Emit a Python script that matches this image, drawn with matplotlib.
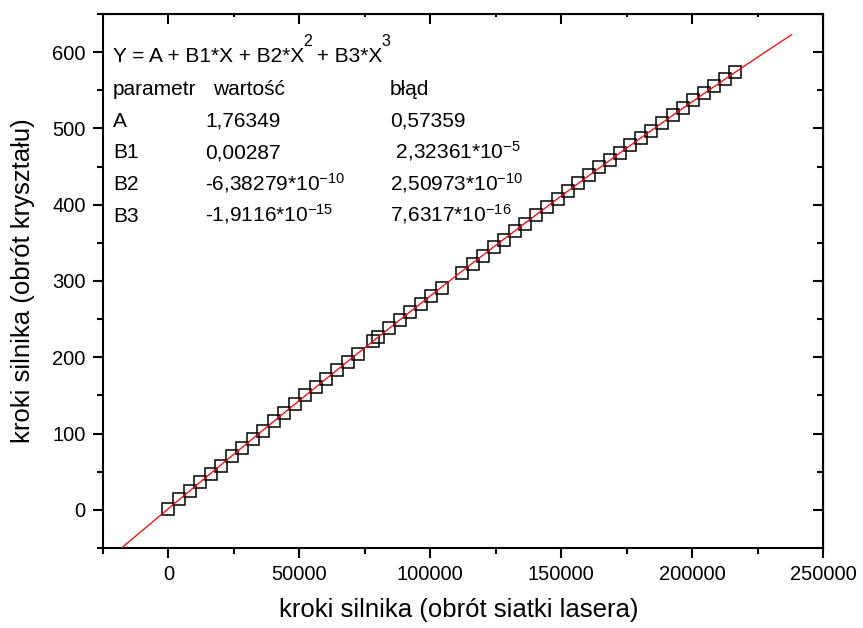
import numpy as np
import matplotlib.pyplot as plt
from matplotlib.ticker import MultipleLocator

plt.rcParams['font.family'] = ['Liberation Sans', 'DejaVu Sans']
plt.rcParams['mathtext.fontset'] = 'custom'
plt.rcParams['mathtext.rm'] = 'Liberation Sans'
plt.rcParams['mathtext.it'] = 'Liberation Sans:italic'

# motor steps: laser grating rotation vs crystal rotation
laser_steps = np.array([
    0, 4200, 8100, 12200, 16200, 20000, 24200, 28100, 32200, 36100,
    40200, 44300, 48500, 52300, 56300, 60300, 64300, 68400, 72400, 78100,
    80200, 84400, 88300, 92400, 96300, 100400, 104400, 112000, 116200, 120300,
    124400, 128300, 132400, 136300, 140500, 144500, 148600, 152600, 156500, 160600,
    164600, 168500, 172300, 176300, 180400, 184300, 188400, 192600, 196400, 200500,
    204600, 208500, 212600, 216400])
crystal_steps = np.array([
    1, 14, 25, 36, 47, 58, 70, 81, 93, 104,
    116, 127, 139, 150, 161, 172, 183, 194, 204, 221,
    227, 238, 249, 260, 270, 280, 291, 311, 322, 333,
    344, 354, 365, 375, 386, 397, 408, 418, 428, 439,
    449, 458, 468, 478, 488, 497, 507, 517, 527, 537,
    547, 556, 565, 574])

# cubic fit Y = A + B1*X + B2*X^2 + B3*X^3
param_names = ['A', 'B1', 'B2', 'B3']
param_values = [1.76349, 0.00287, -6.38279e-10, -1.9116e-15]
value_labels = ['1,76349', '0,00287',
                r'-6,38279*10$^{\mathregular{-10}}$',
                r'-1,9116*10$^{\mathregular{-15}}$']
error_labels = ['0,57359',
                r' 2,32361*10$^{\mathregular{-5}}$',
                r'2,50973*10$^{\mathregular{-10}}$',
                r'7,6317*10$^{\mathregular{-16}}$']

W, H = 863, 628
fig = plt.figure(figsize=(W / 100, H / 100), dpi=100)
ax = fig.add_axes([103 / W, 80 / H, 720 / W, 534 / H])

x_fit = np.linspace(-18000, 238000, 300)
y_fit = np.polyval(param_values[::-1], x_fit)
ax.plot(x_fit, y_fit, color='red', lw=0.9, zorder=3)
ax.plot(laser_steps, crystal_steps, 's', ms=8, mfc='none', mec='black',
        mew=1.1, zorder=2)

ax.set_xlim(-25000, 250000)
ax.set_ylim(-50, 650)
ax.set_xticks(np.arange(0, 250001, 50000))
ax.set_yticks(np.arange(0, 601, 100))
ax.xaxis.set_minor_locator(MultipleLocator(25000))
ax.yaxis.set_minor_locator(MultipleLocator(50))

for s in ax.spines.values():
    s.set_linewidth(1.5)
ax.tick_params(which='both', direction='out', width=1.5, labelsize=14.5, pad=5)
ax.tick_params(which='major', length=7.5)
ax.tick_params(which='minor', length=4)

# inward ticks on the top and right edges, without labels
top = ax.secondary_xaxis('top')
top.set_xticks(np.arange(0, 250001, 50000))
top.xaxis.set_minor_locator(MultipleLocator(25000))
top.tick_params(which='both', direction='in', width=1.5, labeltop=False)
top.tick_params(which='major', length=7.5)
top.tick_params(which='minor', length=2)
right = ax.secondary_yaxis('right')
right.set_yticks(np.arange(0, 601, 100))
right.yaxis.set_minor_locator(MultipleLocator(50))
right.tick_params(which='both', direction='in', width=1.5, labelright=False)
right.tick_params(which='major', length=7.5)
right.tick_params(which='minor', length=4)

ax.set_xlabel('kroki silnika (obrót siatki lasera)', fontsize=18.5)
ax.set_ylabel('kroki silnika (obrót kryształu)', fontsize=18.5)
ax.xaxis.set_label_coords(0.494, -0.093)
ax.yaxis.set_label_coords(-0.094, 0.5)

renderer = fig.canvas.get_renderer()


def put(x, y, s, size=15):
    # place text by pixel position (y from the top, baseline), return right edge
    t = fig.text(x / W, 1 - y / H, s, fontsize=size, va='baseline')
    return t.get_window_extent(renderer).x1


# fit equation with full-height exponents
x = put(113, 61.7, 'Y = A + B1*X + B2*X')
x = put(x - 1, 46, '2', 11.5)
x = put(x - 1, 61.7, ' + B3*X')
put(x - 1, 46, '3', 11.5)

# parameters table
put(113, 95, 'parametr')
put(213, 95, 'wartość')
put(390, 95, 'błąd')
for name, val, err, yy in zip(param_names, value_labels, error_labels,
                              [126.7, 158, 190, 221.7]):
    put(113, yy, name)
    put(205, yy, val)
    put(390, yy, err)

fig.savefig('out.png', dpi=100)
